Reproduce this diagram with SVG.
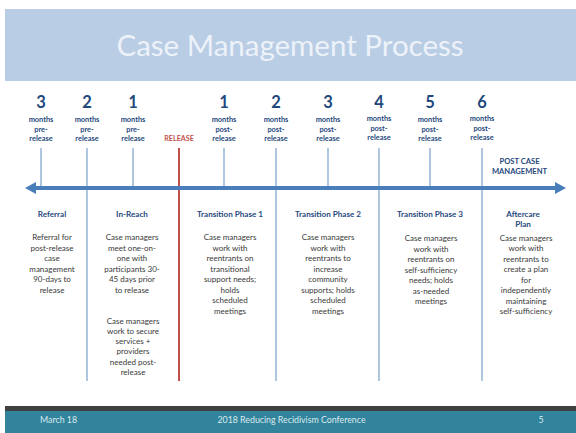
<svg xmlns="http://www.w3.org/2000/svg" width="576" height="433" viewBox="0 0 576 433">
<defs>
<style>
text{font-family:Lato,"Open Sans","Liberation Sans",sans-serif;text-anchor:middle}
.title{font-size:29.5px;fill:#EDF2F9}
.num{font-size:16.5px;font-weight:bold;fill:#1F497D}
.mo{font-size:7.4px;font-weight:bold;fill:#1F497D}
.rel{font-size:7.2px;font-weight:bold;fill:#C0504D}
.hd{font-size:8.1px;font-weight:bold;fill:#1F497D}
.pc{font-size:7.6px;font-weight:bold;fill:#1F497D}
.bd{font-size:8px;fill:#3A3A3A}
.ft{font-size:8.8px;fill:#DCE9EE}
.tick{stroke:#95B3D7;stroke-width:1.5}
</style>
</defs>
<rect x="5" y="9" width="571" height="72" fill="#B9CDE5"/>
<text class="title" x="290" y="56">Case Management Process</text>

<g id="connectors">
<line class="tick" x1="41" y1="148" x2="41" y2="188"/>
<line class="tick" x1="87" y1="148" x2="87" y2="381"/>
<line class="tick" x1="133" y1="148" x2="133" y2="188"/>
<line x1="179" y1="148" x2="179" y2="381" stroke="#C0504D" stroke-width="2"/>
<line class="tick" x1="224" y1="148" x2="224" y2="188"/>
<line class="tick" x1="276" y1="148" x2="276" y2="381"/>
<line class="tick" x1="328" y1="148" x2="328" y2="188"/>
<line class="tick" x1="379" y1="148" x2="379" y2="381"/>
<line class="tick" x1="430" y1="148" x2="430" y2="188"/>
<line class="tick" x1="482" y1="148" x2="482" y2="381"/>
<line x1="34" y1="188" x2="556" y2="188" stroke="#4A7EBB" stroke-width="4"/>
<polygon points="25,188 36,182 36,194" fill="#4A7EBB"/>
<polygon points="566,188 555,182 555,194" fill="#4A7EBB"/>
</g>

<g id="m3pre"><text class="num" x="41" y="108">3</text><text class="mo" x="41" y="122">months</text><text class="mo" x="41" y="131.5">pre-</text><text class="mo" x="41" y="141">release</text></g>
<g id="m2pre"><text class="num" x="87" y="108">2</text><text class="mo" x="87" y="122">months</text><text class="mo" x="87" y="131.5">pre-</text><text class="mo" x="87" y="141">release</text></g>
<g id="m1pre"><text class="num" x="133" y="108">1</text><text class="mo" x="133" y="122">months</text><text class="mo" x="133" y="131.5">pre-</text><text class="mo" x="133" y="141">release</text></g>
<g id="release"><text class="rel" x="179" y="140.5">RELEASE</text></g>
<g id="m1post"><text class="num" x="224" y="108">1</text><text class="mo" x="224" y="122">months</text><text class="mo" x="224" y="131.5">post-</text><text class="mo" x="224" y="141">release</text></g>
<g id="m2post"><text class="num" x="276" y="108">2</text><text class="mo" x="276" y="122">months</text><text class="mo" x="276" y="131.5">post-</text><text class="mo" x="276" y="141">release</text></g>
<g id="m3post"><text class="num" x="328" y="108">3</text><text class="mo" x="328" y="122">months</text><text class="mo" x="328" y="131.5">post-</text><text class="mo" x="328" y="141">release</text></g>
<g id="m4post"><text class="num" x="379" y="108">4</text><text class="mo" x="379" y="121">months</text><text class="mo" x="379" y="130.5">post-</text><text class="mo" x="379" y="140">release</text></g>
<g id="m5post"><text class="num" x="430" y="108">5</text><text class="mo" x="430" y="122">months</text><text class="mo" x="430" y="131.5">post-</text><text class="mo" x="430" y="141">release</text></g>
<g id="m6post"><text class="num" x="482" y="108">6</text><text class="mo" x="482" y="121">months</text><text class="mo" x="482" y="130.5">post-</text><text class="mo" x="482" y="140">release</text></g>
<g id="postcase"><text class="pc" x="519.5" y="163.5">POST CASE</text><text class="pc" x="519.5" y="173.5">MANAGEMENT</text></g>

<g id="referral">
<text class="hd" x="52" y="216.5">Referral</text>
<text class="bd" x="52" y="240">Referral for</text>
<text class="bd" x="52" y="250.5">post-release</text>
<text class="bd" x="52" y="261">case</text>
<text class="bd" x="52" y="271.5">management</text>
<text class="bd" x="52" y="282">90-days to</text>
<text class="bd" x="52" y="292.5">release</text>
</g>
<g id="inreach">
<text class="hd" x="132" y="216.5">In-Reach</text>
<text class="bd" x="132" y="240">Case managers</text>
<text class="bd" x="132" y="250.5">meet one-on-</text>
<text class="bd" x="132" y="261">one with</text>
<text class="bd" x="132" y="271.5">participants 30-</text>
<text class="bd" x="132" y="282">45 days prior</text>
<text class="bd" x="132" y="292.5">to release</text>
<text class="bd" x="133" y="323.5">Case managers</text>
<text class="bd" x="133" y="333.8">work to secure</text>
<text class="bd" x="133" y="344.1">services +</text>
<text class="bd" x="133" y="354.4">providers</text>
<text class="bd" x="133" y="364.7">needed post-</text>
<text class="bd" x="133" y="375">release</text>
</g>
<g id="phase1">
<text class="hd" x="230" y="216.5">Transition Phase 1</text>
<text class="bd" x="230" y="240">Case managers</text>
<text class="bd" x="230" y="250.5">work with</text>
<text class="bd" x="230" y="261">reentrants on</text>
<text class="bd" x="230" y="271.5">transitional</text>
<text class="bd" x="230" y="282">support needs;</text>
<text class="bd" x="230" y="292.5">holds</text>
<text class="bd" x="230" y="303">scheduled</text>
<text class="bd" x="230" y="313.5">meetings</text>
</g>
<g id="phase2">
<text class="hd" x="328" y="216.5">Transition Phase 2</text>
<text class="bd" x="328" y="240">Case managers</text>
<text class="bd" x="328" y="250.5">work with</text>
<text class="bd" x="328" y="261">reentrants to</text>
<text class="bd" x="328" y="271.5">increase</text>
<text class="bd" x="328" y="282">community</text>
<text class="bd" x="328" y="292.5">supports; holds</text>
<text class="bd" x="328" y="303">scheduled</text>
<text class="bd" x="328" y="313.5">meetings</text>
</g>
<g id="phase3">
<text class="hd" x="430" y="216.5">Transition Phase 3</text>
<text class="bd" x="431" y="241">Case managers</text>
<text class="bd" x="431" y="251.5">work with</text>
<text class="bd" x="431" y="262">reentrants on</text>
<text class="bd" x="431" y="272.5">self-sufficiency</text>
<text class="bd" x="431" y="283">needs; holds</text>
<text class="bd" x="431" y="293.5">as-needed</text>
<text class="bd" x="431" y="304">meetings</text>
</g>
<g id="aftercare">
<text class="hd" x="523" y="216.5">Aftercare</text>
<text class="hd" x="523" y="226.8">Plan</text>
<text class="bd" x="526" y="240.5">Case managers</text>
<text class="bd" x="526" y="251">work with</text>
<text class="bd" x="526" y="261.5">reentrants to</text>
<text class="bd" x="526" y="272">create a plan</text>
<text class="bd" x="526" y="282.5">for</text>
<text class="bd" x="526" y="293">independently</text>
<text class="bd" x="526" y="303.5">maintaining</text>
<text class="bd" x="526" y="314">self-sufficiency</text>
</g>

<rect x="5" y="406" width="571" height="5" fill="#404040"/>
<rect x="5" y="411" width="571" height="22" fill="#31849B"/>
<text class="ft" x="40" y="422.5" style="text-anchor:start">March 18</text>
<text class="ft" x="291.5" y="422.5">2018 Reducing Recidivism Conference</text>
<text class="ft" x="541" y="422.5">5</text>
</svg>
